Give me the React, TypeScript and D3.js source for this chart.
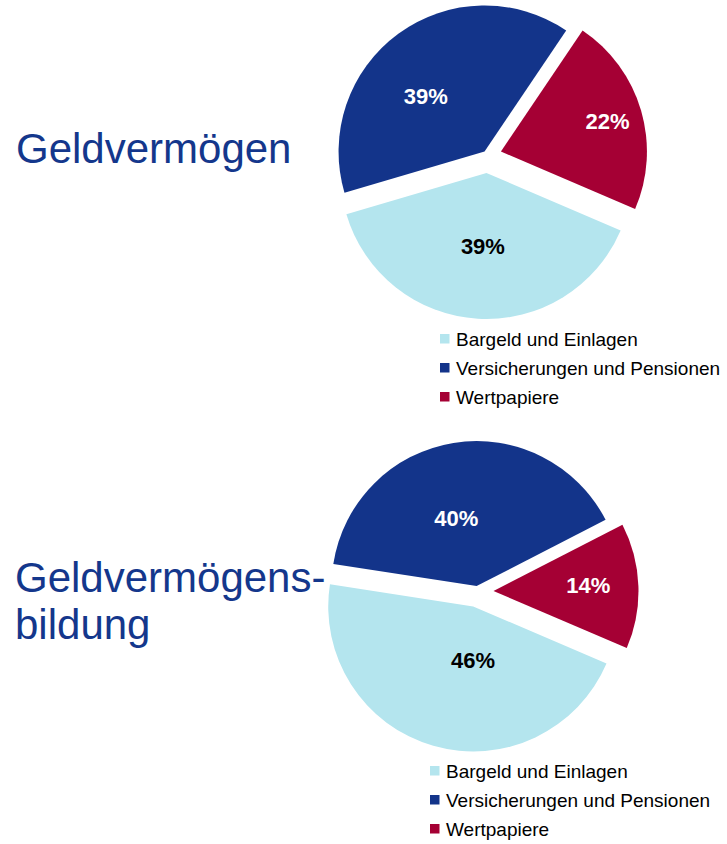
import * as d3 from "d3";

// data
const categories = ["Bargeld und Einlagen", "Versicherungen und Pensionen", "Wertpapiere"];
const colors = ["#b4e5ee", "#13348a", "#a50034"];
const labelColors = ["#000000", "#ffffff", "#ffffff"];
const stockValues = [39, 39, 22]; // Geldvermögen
const flowValues = [46, 40, 14]; // Geldvermögensbildung
const titles = [["Geldvermögen"], ["Geldvermögens-", "bildung"]];

// layout for each pie (center, radius, explode per slice, label polar pos)
const pies = [
  {
    values: stockValues,
    cx: 487.5, cy: 155.5, r: 146,
    explode: [17.5, 5, 14],
    labelPos: [[182.8, 73], [313.5, 81], [74, 111]],
    titleX: 16, titleY: 163,
    legendX: 440, legendY: 346,
  },
  {
    values: flowValues,
    cx: 477.5, cy: 591.5, r: 145,
    explode: [15.5, 5.5, 16],
    labelPos: [[180.2, 54], [343.3, 71], [86.4, 95]],
    titleX: 15, titleY: 592,
    legendX: 430, legendY: 778,
  },
];

const startDeg = 113.2;
const rad = (d: number) => (d * Math.PI) / 180;
const font = "'Liberation Sans', Arial, sans-serif";

function Pie(props: { cfg: typeof pies[0]; title: string[] }) {
  const cfg = props.cfg;
  const pie = d3.pie<number>().sort(null).value((d) => d)
    .startAngle(rad(startDeg)).endAngle(rad(startDeg) + 2 * Math.PI);
  const arcs = pie(cfg.values);
  const arc = d3.arc<d3.PieArcDatum<number>>().innerRadius(0).outerRadius(cfg.r);

  return (
    <g>
      {props.title.map((line, i) => (
        <text key={i} x={cfg.titleX} y={cfg.titleY + i * 47} fontSize={42} fill="#14378c" fontFamily={font}>
          {line}
        </text>
      ))}
      {arcs.map((a, i) => {
        const mid = (a.startAngle + a.endAngle) / 2;
        const sx = cfg.cx + cfg.explode[i] * Math.sin(mid);
        const sy = cfg.cy - cfg.explode[i] * Math.cos(mid);
        const la = rad(cfg.labelPos[i][0]);
        const lx = sx + cfg.labelPos[i][1] * Math.sin(la);
        const ly = sy - cfg.labelPos[i][1] * Math.cos(la);
        return (
          <g key={i} transform={`translate(${sx},${sy})`}>
            <path d={arc(a) || ""} fill={colors[i]} />
            <text x={lx - sx} y={ly - sy} dy="0.36em" textAnchor="middle" fontSize={22} fontWeight="bold"
              fill={labelColors[i]} fontFamily={font}>
              {a.data + "%"}
            </text>
          </g>
        );
      })}
      {categories.map((c, i) => (
        <g key={c}>
          <rect x={cfg.legendX} y={cfg.legendY + i * 29 - 12} width={9.5} height={9.5} fill={colors[i]} />
          <text x={cfg.legendX + 16} y={cfg.legendY + i * 29} fontSize={19} fill="#000" fontFamily={font}>
            {c}
          </text>
        </g>
      ))}
    </g>
  );
}

export default function App() {
  return (
    <svg width={727} height={844} style={{ position: "absolute", left: 0, top: 0, background: "#fff" }}>
      {pies.map((p, i) => (
        <Pie key={i} cfg={p} title={titles[i]} />
      ))}
    </svg>
  );
}
